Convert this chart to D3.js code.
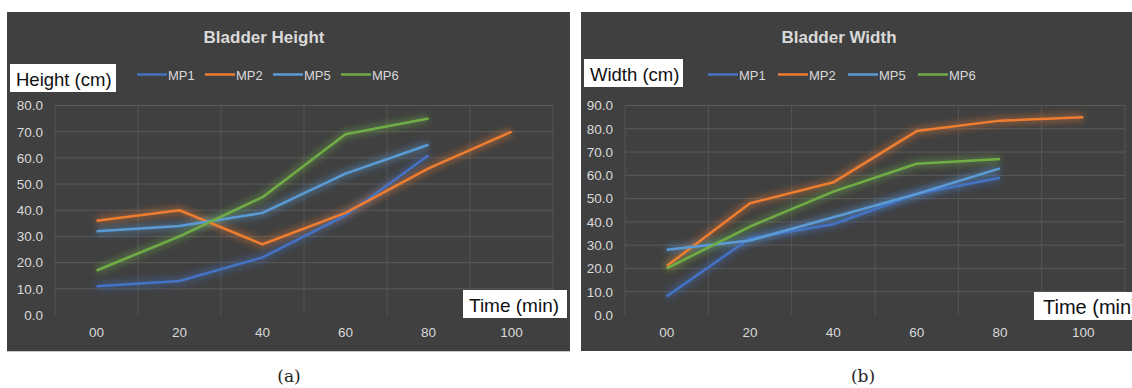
<!DOCTYPE html>
<html>
<head>
<meta charset="utf-8">
<script src="https://cdn.jsdelivr.net/npm/d3@7"></script>
<style>
  body { margin: 0; background: #ffffff; }
  svg { display: block; }
  .tick text { font-family: "Liberation Sans", Arial, sans-serif; fill: #d9d9d9; }
</style>
</head>
<body>
<div id="chart"></div>
<script>
// ---- data ----
const times = ["00", "20", "40", "60", "80", "100"];
const seriesNames = ["MP1", "MP2", "MP5", "MP6"];
const seriesColors = ["#4472c4", "#ed7d31", "#5b9bd5", "#70ad47"];

// Bladder height (cm), null = no measurement
const heightMP1 = [11, 13, 22, 38, 61, null];
const heightMP2 = [36, 40, 27, 39, 56, 70];
const heightMP5 = [32, 34, 39, 54, 65, null];
const heightMP6 = [17, 30, 45, 69, 75, null];
const heightTicks = [0, 10, 20, 30, 40, 50, 60, 70, 80];

// Bladder width (cm)
const widthMP1 = [8, 33, 39, 52, 59, null];
const widthMP2 = [21, 48, 57, 79, 83.5, 85];
const widthMP5 = [28, 32, 42, 52, 63, null];
const widthMP6 = [20, 38, 53, 65, 67, null];
const widthTicks = [0, 10, 20, 30, 40, 50, 60, 70, 80, 90];

const W = 1132, H = 388;

const svg = d3.select("#chart")
  .append("svg")
    .attr("width", W)
    .attr("height", H);

// glow filter for the lines
const defs = svg.append("defs");
const glow = defs.append("filter")
  .attr("id", "glow")
  .attr("x", "-20%").attr("y", "-20%")
  .attr("width", "140%").attr("height", "140%");
glow.append("feGaussianBlur").attr("stdDeviation", 3.5);

const drawPanel = (opt) => {
  const g = svg.append("g");

  // dark chart area
  g.append("rect")
    .attr("x", opt.px).attr("y", 12)
    .attr("width", 563).attr("height", 339)
    .attr("fill", "#404040");

  // title
  g.append("text")
    .text(opt.title)
    .attr("x", opt.titleX).attr("y", 43)
    .attr("text-anchor", "middle")
    .attr("font-family", "Liberation Sans, Arial, sans-serif")
    .attr("font-weight", "bold")
    .attr("font-size", 17)
    .attr("fill", "#d9d9d9");

  // scales
  const xScale = d3.scaleBand()
    .domain(times)
    .range([opt.left, opt.right]);
  const yScale = d3.scaleLinear()
    .domain([0, opt.yMax])
    .range([315, 105.5]);

  // horizontal grid
  g.append("g")
    .selectAll("line")
    .data(opt.ticks.filter(d => d > 0))
    .join("line")
      .attr("x1", opt.left).attr("x2", opt.right)
      .attr("y1", d => yScale(d)).attr("y2", d => yScale(d))
      .attr("stroke", "#5a5a5a").attr("stroke-width", 1);

  // vertical grid at category boundaries
  const bounds = times.map(t => xScale(t)).concat([opt.right]);
  g.append("g")
    .selectAll("line")
    .data(bounds)
    .join("line")
      .attr("x1", d => d).attr("x2", d => d)
      .attr("y1", yScale(opt.yMax)).attr("y2", 315)
      .attr("stroke", "#555555").attr("stroke-width", 1);

  // y axis
  const leftAxis = d3.axisLeft(yScale)
    .tickValues(opt.ticks)
    .tickFormat(d3.format(".1f"))
    .tickSize(0)
    .tickPadding(0);
  g.append("g")
      .attr("transform", `translate(${opt.left - 12}, 0)`)
      .call(leftAxis)
      .call(a => a.select(".domain").remove())
      .selectAll("text").attr("font-size", 13.5);

  // x axis
  const bottomAxis = d3.axisBottom(xScale).tickSize(0).tickPadding(0);
  g.append("g")
      .attr("transform", "translate(0, 327)")
      .call(bottomAxis)
      .call(a => a.select(".domain").remove())
      .selectAll("text").attr("font-size", 13.5);

  // lines
  const line = d3.line()
    .defined(d => d.v !== null)
    .x(d => xScale(d.t) + xScale.bandwidth() / 2)
    .y(d => yScale(d.v));

  opt.series.forEach((vals, i) => {
    const pts = vals.map((v, j) => ({ t: times[j], v: v }));
    g.append("path")
      .datum(pts)
      .attr("d", line)
      .attr("fill", "none")
      .attr("stroke", seriesColors[i])
      .attr("stroke-width", 7)
      .attr("opacity", 0.45)
      .attr("filter", "url(#glow)");
  });
  opt.series.forEach((vals, i) => {
    const pts = vals.map((v, j) => ({ t: times[j], v: v }));
    g.append("path")
      .datum(pts)
      .attr("d", line)
      .attr("fill", "none")
      .attr("stroke", seriesColors[i])
      .attr("stroke-width", 2.5)
      .attr("stroke-linejoin", "round");
  });

  // legend
  const legend = g.append("g");
  seriesNames.forEach((name, i) => {
    const lx = opt.legendX + i * opt.legendStep;
    legend.append("line")
      .attr("x1", lx).attr("x2", lx + 30)
      .attr("y1", 74.5).attr("y2", 74.5)
      .attr("stroke", seriesColors[i]).attr("stroke-width", 2.5);
    legend.append("text")
      .text(name)
      .attr("x", lx + 31).attr("y", 79.5)
      .attr("font-family", "Liberation Sans, Arial, sans-serif")
      .attr("font-size", 13)
      .attr("fill", "#d9d9d9");
  });

  // axis label boxes
  g.append("rect")
    .attr("x", opt.yLab.x).attr("y", opt.yLab.y)
    .attr("width", opt.yLab.w).attr("height", 28)
    .attr("fill", "#ffffff");
  g.append("text")
    .text(opt.yLabel)
    .attr("x", opt.yLab.x + 6).attr("y", opt.yLab.y + 22)
    .attr("font-family", "Liberation Sans, Arial, sans-serif")
    .attr("font-size", 18.5)
    .attr("fill", "#111111");

  g.append("rect")
    .attr("x", opt.xLab.x).attr("y", opt.xLab.y)
    .attr("width", 104).attr("height", 28)
    .attr("fill", "#ffffff");
  g.append("text")
    .text("Time (min)")
    .attr("x", opt.xLab.x + opt.xLab.dx).attr("y", opt.xLab.y + 22)
    .attr("font-family", "Liberation Sans, Arial, sans-serif")
    .attr("font-size", opt.xLab.size)
    .attr("fill", "#111111");

  // caption
  svg.append("text")
    .text(opt.caption)
    .attr("x", opt.captionX).attr("y", 382)
    .attr("text-anchor", "middle")
    .attr("font-family", "DejaVu Serif, Liberation Serif, serif")
    .attr("font-size", 17)
    .attr("fill", "#222222");
};

drawPanel({
  px: 7, title: "Bladder Height", titleX: 264,
  left: 55, right: 553, yMax: 80, ticks: heightTicks,
  series: [heightMP1, heightMP2, heightMP5, heightMP6],
  legendX: 137, legendStep: 68,
  yLabel: "Height (cm)", yLab: { x: 10, y: 64, w: 106 },
  xLab: { x: 463, y: 290, dx: 6, size: 19 },
  caption: "(a)", captionX: 289
});

drawPanel({
  px: 581, title: "Bladder Width", titleX: 839,
  left: 625, right: 1125, yMax: 90, ticks: widthTicks,
  series: [widthMP1, widthMP2, widthMP5, widthMP6],
  legendX: 708, legendStep: 70,
  yLabel: "Width (cm)", yLab: { x: 584, y: 59, w: 99 },
  xLab: { x: 1034, y: 292, dx: 9, size: 20 },
  caption: "(b)", captionX: 863
});

// thin light border under the left panel
svg.append("line")
  .attr("x1", 7).attr("x2", 570)
  .attr("y1", 351.5).attr("y2", 351.5)
  .attr("stroke", "#c8c8c8").attr("stroke-width", 1);
</script>
</body>
</html>
